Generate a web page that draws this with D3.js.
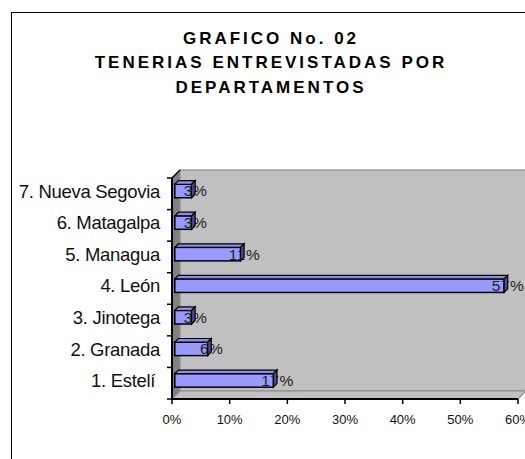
<!DOCTYPE html>
<html>
<head>
<meta charset="utf-8">
<script src="https://cdn.jsdelivr.net/npm/d3@7"></script>
<style>
  body { margin: 0; background: #fff; }
  text { font-family: Arial, "Liberation Sans", sans-serif; }
</style>
</head>
<body>
<div id="svg"></div>
<script>
// data, top of the list first
var departamentos = ["7. Nueva Segovia", "6. Matagalpa", "5. Managua", "4. León", "3. Jinotega", "2. Granada", "1. Estelí "];
var porcentajes = [2.9, 2.9, 11.4, 57.1, 2.9, 5.7, 17.1];
var etiquetas = ["3%", "3%", "11%", "57%", "3%", "6%", "17%"];
var ticks = [0, 10, 20, 30, 40, 50, 60];
var titulo = ["GRAFICO No. 02", "TENERIAS ENTREVISTADAS POR", "DEPARTAMENTOS"];

let width = 525, height = 459;

let svg = d3.select("#svg").append("svg")
    .attr("width", width)
    .attr("height", height);

// outer chart frame
svg.append("rect")
    .attr("x", 11.5).attr("y", 12.5)
    .attr("width", 540).attr("height", 470)
    .attr("fill", "#fff")
    .attr("stroke", "#000")
    .attr("stroke-width", 1);

// title
svg.append("g").selectAll("text")
    .data(titulo)
    .join("text")
    .attr("x", 271)
    .attr("y", (d, i) => 43.5 + i * 24.5)
    .attr("text-anchor", "middle")
    .attr("font-size", 17)
    .attr("font-weight", "bold")
    .attr("letter-spacing", 3)
    .text(d => d);

// 3d projection: full depth offset
let DX = 8, DY = -8;
let f0 = 0.35, f1 = 0.8;   // bar depth, front and back

let x = d3.scaleLinear().domain([0, 60]).range([172, 518]);
let y = d3.scaleBand().domain(departamentos).range([178, 399]);

let x0 = x(0), x1 = x(60), y0 = 178, y1 = 399;

// left wall
svg.append("path")
    .attr("d", `M${x0},${y0}L${x0 + DX},${y0 + DY}L${x0 + DX},${y1 + DY}L${x0},${y1}Z`)
    .attr("fill", "#808080")
    .attr("stroke", "#808080");

// back wall
svg.append("rect")
    .attr("x", x0 + DX).attr("y", y0 + DY)
    .attr("width", x1 - x0).attr("height", y1 - y0)
    .attr("fill", "#c0c0c0")
    .attr("stroke", "#8c8c8c")
    .attr("stroke-width", 1.2);

// floor
svg.append("path")
    .attr("d", `M${x0},${y1}L${x0 + DX},${y1 + DY}L${x1 + DX},${y1 + DY}L${x1},${y1}Z`)
    .attr("fill", "#c0c0c0")
    .attr("stroke", "#8c8c8c")
    .attr("stroke-width", 1.2);

// axes
svg.append("line")
    .attr("x1", x0).attr("x2", x0).attr("y1", y0).attr("y2", y1)
    .attr("stroke", "#000").attr("stroke-width", 2);
svg.append("line")
    .attr("x1", x0).attr("x2", x0 + DX).attr("y1", y0).attr("y2", y0 + DY)
    .attr("stroke", "#000").attr("stroke-width", 1.5);
svg.append("line")
    .attr("x1", x0).attr("x2", x1).attr("y1", y1).attr("y2", y1)
    .attr("stroke", "#000").attr("stroke-width", 2);

// category ticks on the band edges
let edges = departamentos.map(d => y(d)).concat([y1]);
svg.append("g").selectAll("line")
    .data(edges)
    .join("line")
    .attr("x1", x0 - 5).attr("x2", x0)
    .attr("y1", d => d).attr("y2", d => d)
    .attr("stroke", "#000").attr("stroke-width", 1.5);

// value ticks
let gx = svg.append("g");
gx.selectAll("line")
    .data(ticks)
    .join("line")
    .attr("x1", d => x(d)).attr("x2", d => x(d))
    .attr("y1", y1).attr("y2", y1 + 5)
    .attr("stroke", "#000").attr("stroke-width", 1.5);
gx.selectAll("text")
    .data(ticks)
    .join("text")
    .attr("x", d => x(d))
    .attr("y", y1 + 25)
    .attr("text-anchor", "middle")
    .attr("font-size", 13)
    .attr("fill", "#111")
    .text(d => d + "%");

// category labels
svg.append("g").selectAll("text")
    .data(departamentos)
    .join("text")
    .attr("x", 160)
    .attr("y", d => y(d) + y.bandwidth() / 2 - 2.5)
    .attr("dy", "0.35em")
    .attr("text-anchor", "end")
    .attr("font-size", 18.5)
    .attr("letter-spacing", -0.3)
    .style("white-space", "pre")
    .attr("fill", "#111")
    .text(d => d);

// bars
let barH = 13.5;
let bars = departamentos.map((d, i) => {
    let cy = y(d) + y.bandwidth() / 2;
    return {
        name: d,
        value: porcentajes[i],
        label: etiquetas[i],
        xl: x(0) + f0 * DX,
        xr: x(porcentajes[i]) + f0 * DX,
        yt: cy - barH / 2 + f0 * DY,
        yb: cy + barH / 2 + f0 * DY
    };
});
let ddx = (f1 - f0) * DX, ddy = (f1 - f0) * DY;

let gb = svg.append("g");
gb.selectAll("rect.front")
    .data(bars)
    .join("rect")
    .attr("class", "front")
    .attr("x", d => d.xl).attr("y", d => d.yt)
    .attr("width", d => d.xr - d.xl).attr("height", d => d.yb - d.yt)
    .attr("fill", "#9999ff")
    .attr("stroke", "#000").attr("stroke-width", 1.5);
gb.selectAll("path.top")
    .data(bars)
    .join("path")
    .attr("class", "top")
    .attr("d", d => `M${d.xl},${d.yt}L${d.xl + ddx},${d.yt + ddy}L${d.xr + ddx},${d.yt + ddy}L${d.xr},${d.yt}Z`)
    .attr("fill", "#8c8ce6")
    .attr("stroke", "#000").attr("stroke-width", 1.2);

// value labels, partly hidden behind the side faces
svg.append("g").selectAll("text")
    .data(bars)
    .join("text")
    .attr("x", d => d.xr + 4)
    .attr("y", d => (d.yt + d.yb) / 2)
    .attr("dy", "0.35em")
    .attr("text-anchor", "middle")
    .attr("font-size", 15.5)
    .attr("letter-spacing", 0.5)
    .attr("fill", "#222")
    .text(d => d.label);

svg.append("g").selectAll("path")
    .data(bars)
    .join("path")
    .attr("d", d => `M${d.xr},${d.yt}L${d.xr + ddx},${d.yt + ddy}L${d.xr + ddx},${d.yb + ddy}L${d.xr},${d.yb}Z`)
    .attr("fill", "#4a4a90")
    .attr("stroke", "#000").attr("stroke-width", 1.2);
</script>
</body>
</html>
